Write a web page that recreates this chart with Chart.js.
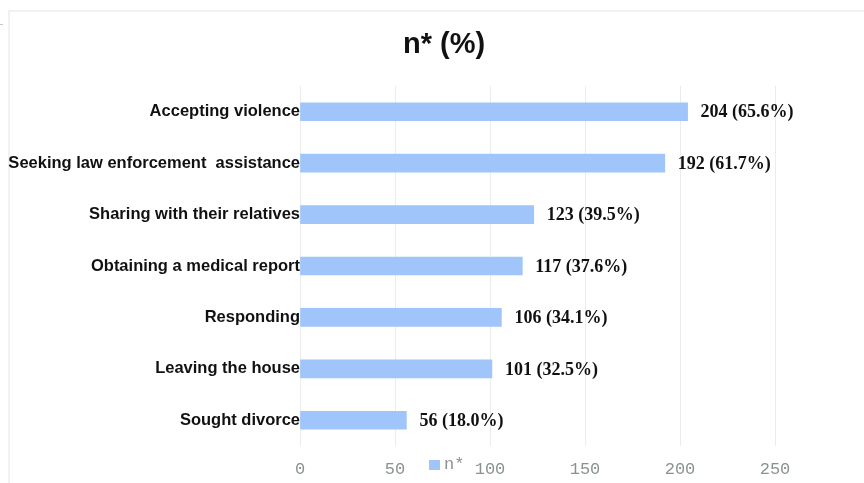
<!DOCTYPE html>
<html>
<head>
<meta charset="utf-8">
<title>n* (%)</title>
<script src="https://cdn.jsdelivr.net/npm/chart.js@4.4.1/dist/chart.umd.min.js"></script>
<style>
    html, body { margin: 0; padding: 0; background: #ffffff; }
    #wrap { position: relative; width: 864px; height: 483px; overflow: hidden; }
    /* light frame around the chart panel */
    #frame { position: absolute; left: 8px; top: 10px; width: 900px; height: 500px;
             border-top: 2px solid #f1f1f1; border-left: 2px solid #f1f1f1; }
    #mark { position: absolute; left: 0; top: 24px; width: 3px; height: 1px; background: #c8c8c8; }
    #myChart { position: absolute; left: 0; top: 0; }
</style>
</head>
<body>
<div id="wrap">
    <div id="frame"></div>
    <div id="mark"></div>
    <canvas id="myChart" width="864" height="483"></canvas>
</div>
<script>

    // categories, counts and shares for each response
    const responses = [
        'Accepting violence',
        'Seeking law enforcement  assistance',
        'Sharing with their relatives',
        'Obtaining a medical report',
        'Responding',
        'Leaving the house',
        'Sought divorce'
    ];
    const counts = [204, 192, 123, 117, 106, 101, 56];
    const shares = ['65.6', '61.7', '39.5', '37.6', '34.1', '32.5', '18.0'];
    const xTicks = [0, 50, 100, 150, 200, 250];
    const heading = 'n* (%)';

    const barColor = '#9fc5fb';
    const tickGray = '#8a9191';

    // writes "n (x%)" to the right of each bar
    const valueLabels = {
        id: 'valueLabels',
        afterDatasetsDraw(chart) {
            const ctx = chart.ctx;
            const meta = chart.getDatasetMeta(0);
            ctx.save();
            ctx.font = 'bold 18px "Liberation Serif", "Times New Roman", serif';
            ctx.fillStyle = '#111111';
            ctx.textAlign = 'left';
            ctx.textBaseline = 'middle';
            meta.data.forEach((bar, i) => {
                ctx.fillText(`${counts[i]} (${shares[i]}%)`, bar.x + 13, bar.y + 1);
            });
            ctx.restore();
        }
    };

    // heading over the plot and the small legend in the tick label row
    const extras = {
        id: 'extras',
        afterDraw(chart) {
            const ctx = chart.ctx;
            const ds = chart.data.datasets[0];
            ctx.save();

            ctx.font = 'bold 29px "Liberation Sans", Arial, sans-serif';
            ctx.fillStyle = '#111111';
            ctx.textAlign = 'center';
            ctx.textBaseline = 'middle';
            ctx.fillText(heading, 444, 45);

            const cx = 447;
            const cy = 465;
            ctx.fillStyle = ds.backgroundColor;
            ctx.fillRect(cx - 18, cy - 5, 11, 10);
            ctx.font = '17px "Liberation Mono", "Courier New", monospace';
            ctx.fillStyle = tickGray;
            ctx.textAlign = 'left';
            ctx.fillText(ds.label, cx - 3, cy - 1);
            ctx.restore();
        }
    };

    const ctx = document.getElementById('myChart');
    const chart = new Chart(ctx, {
        type: 'bar',
        data: {
            labels: responses,
            datasets: [
                {
                    label: 'n*',
                    data: counts,
                    backgroundColor: barColor,
                    borderWidth: 0,
                    barThickness: 18
                }
            ]
        },
        options: {
            indexAxis: 'y',
            responsive: false,
            animation: false,
            layout: {
                padding: { top: 86, left: 0, right: 89, bottom: 0 }
            },
            scales: {
                x: {
                    min: 0,
                    max: 250,
                    afterBuildTicks(scale) {
                        scale.ticks = xTicks.map(v => ({ value: v }));
                    },
                    afterFit(scale) {
                        scale.height = 37;
                    },
                    grid: {
                        color: '#ececec',
                        lineWidth: 1,
                        drawTicks: false
                    },
                    border: { display: false },
                    ticks: {
                        padding: 13,
                        color: tickGray,
                        font: { family: '"Liberation Mono", "DejaVu Sans Mono", monospace', size: 17 }
                    }
                },
                y: {
                    // category names drawn above the bars
                    z: 1,
                    afterFit(scale) {
                        scale.width = 300;
                    },
                    grid: { display: false, drawTicks: false },
                    border: { display: false },
                    ticks: {
                        padding: 0,
                        color: '#111111',
                        font: { family: '"Liberation Sans", Arial, sans-serif', size: 16.5, weight: 'bold' }
                    }
                }
            },
            plugins: {
                legend: { display: false },
                tooltip: { enabled: false },
                title: { display: false }
            }
        },
        plugins: [valueLabels, extras]
    });

</script>
</body>
</html>
